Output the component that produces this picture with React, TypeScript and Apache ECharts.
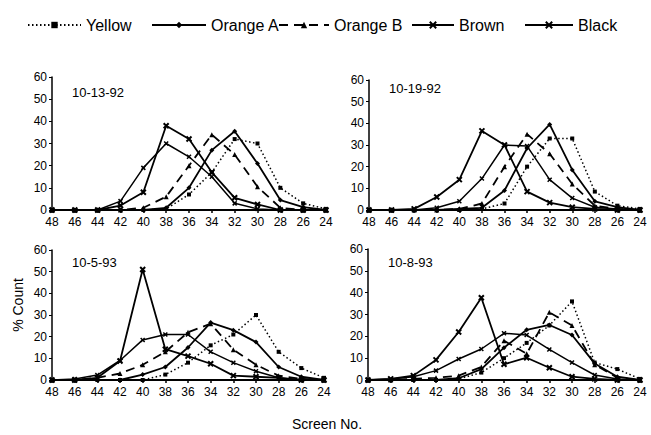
import React, { useEffect, useRef } from "react";
import * as echarts from "echarts";

const screens = ["48", "46", "44", "42", "40", "38", "36", "34", "32", "30", "28", "26", "24"];
const panelTitles = ["10-13-92", "10-19-92", "10-5-93", "10-8-93"];
const seriesNames = ["Yellow", "Orange A", "Orange B", "Brown", "Black"];

// Panel 1: 10-13-92
const p1Yellow = [0, 0, 0, 0, 0, 0.5, 7, 17, 32, 30, 10, 3, 0.5];
const p1OrangeA = [0, 0, 0, 0, 0, 1, 10, 27, 35.5, 21, 4.5, 1.3, 0];
const p1OrangeB = [0, 0, 0, 0, 1, 6, 20, 34, 25, 10.5, 1, 0, 0];
const p1Brown = [0, 0, 0, 4, 19, 30, 24, 15, 3, 0.5, 0, 0, 0];
const p1Black = [0, 0, 0, 2, 8, 38, 32, 17, 5.5, 2.5, 0, 0, 0];

// Panel 2: 10-19-92
const p2Yellow = [0, 0, 0, 0, 0, 0.5, 3, 20, 33, 33, 8.5, 2, 0.5];
const p2OrangeA = [0, 0, 0, 0, 0.5, 1, 9, 28.5, 39.5, 18.5, 4, 1.3, 0];
const p2OrangeB = [0, 0, 0, 0, 0.5, 3, 20, 35, 26, 12, 2, 0.5, 0];
const p2Brown = [0, 0, 0, 1, 4, 14.5, 30, 29.5, 14, 5.5, 1.3, 0.5, 0];
const p2Black = [0, 0, 0.5, 6, 14, 36.5, 30, 8.5, 3.4, 1.3, 0.5, 0, 0];

// Panel 3: 10-5-93
const p3Yellow = [0, 0, 0, 0, 0, 2.5, 8, 16, 21, 30, 13, 5.5, 1];
const p3OrangeA = [0, 0, 0, 0, 2.5, 6, 15, 26.5, 23, 17.5, 6, 1.5, 0];
const p3OrangeB = [0, 0, 1, 3, 7, 13, 22, 26, 14, 7, 2, 0.5, 0];
const p3Brown = [0, 0.5, 2.3, 9, 18.5, 21, 21, 13, 8, 4, 1, 0, 0];
const p3Black = [0, 0, 1, 8.8, 51, 14.2, 11, 7.5, 2, 1.5, 1, 0, 0];

// Panel 4: 10-8-93
const p4Yellow = [0, 0, 0, 0, 0.5, 3.4, 10, 17, 25, 36, 8, 5, 0.5];
const p4OrangeA = [0, 0, 0, 0, 0.8, 5, 14.8, 23, 25.2, 20.6, 7.6, 1.5, 0];
const p4OrangeB = [0, 0, 0.5, 1, 2, 6, 18, 12, 31, 25, 7, 1, 0];
const p4Brown = [0, 0.5, 1.5, 4.3, 9.6, 14.2, 21.4, 20.6, 14, 8, 2.3, 0.5, 0];
const p4Black = [0, 0.5, 2, 9.2, 22, 37.7, 7.2, 10.2, 5.6, 1.5, 0.5, 0, 0];

const panels = [
  [p1Yellow, p1OrangeA, p1OrangeB, p1Brown, p1Black],
  [p2Yellow, p2OrangeA, p2OrangeB, p2Brown, p2Black],
  [p3Yellow, p3OrangeA, p3OrangeB, p3Brown, p3Black],
  [p4Yellow, p4OrangeA, p4OrangeB, p4Brown, p4Black],
];

const FONT = "'Liberation Sans', Arial, Helvetica, sans-serif";
const X_SYM = "path://M0,0L10,10M10,0L0,10";

const styles = [
  { symbol: "rect", symbolSize: 4, lineStyle: { color: "#000", width: 1.5, type: [1.5, 2.5] }, itemStyle: { color: "#000" } },
  { symbol: "diamond", symbolSize: 5, lineStyle: { color: "#000", width: 1.8, type: "solid" }, itemStyle: { color: "#000" } },
  { symbol: "triangle", symbolSize: 5, lineStyle: { color: "#000", width: 1.8, type: [9, 6] }, itemStyle: { color: "#000" } },
  { symbol: X_SYM, symbolSize: 4, lineStyle: { color: "#000", width: 1.5, type: "solid" }, itemStyle: { color: "#000", borderColor: "#000", borderWidth: 1.5 } },
  { symbol: X_SYM, symbolSize: 5, lineStyle: { color: "#000", width: 1.8, type: "solid" }, itemStyle: { color: "#000", borderColor: "#000", borderWidth: 2 } },
];

const grids = [
  { left: 52, top: 77, width: 274, height: 133 },
  { left: 369, top: 80, width: 271, height: 130 },
  { left: 52, top: 250, width: 272, height: 130 },
  { left: 368, top: 249, width: 272, height: 131 },
];

const titlePos = [
  [72, 93],
  [389, 89],
  [72, 263],
  [388, 263],
];

const legendPos = [
  { left: 27, w: 53 },
  { left: 151, w: 54 },
  { left: 278, w: 50 },
  { left: 411, w: 42 },
  { left: 524, w: 48 },
];

export default function App() {
  const ref = useRef<HTMLDivElement>(null);
  useEffect(() => {
    if (!ref.current) return;
    const chart = echarts.init(ref.current, null, { renderer: "svg" });
    const series: any[] = [];
    panels.forEach((panel, pi) => {
      panel.forEach((data, si) => {
        series.push({
          type: "line",
          name: seriesNames[si],
          xAxisIndex: pi,
          yAxisIndex: pi,
          data,
          showSymbol: true,
          ...styles[si],
          z: 3,
        });
      });
    });
    const option: any = {
      animation: false,
      backgroundColor: "#fff",
      legend: legendPos.map((lp, i) => ({
        data: [seriesNames[i]],
        left: lp.left,
        top: 17,
        itemWidth: lp.w,
        itemHeight: 8,
        padding: 0,
        selectedMode: false,
        textStyle: { fontFamily: FONT, fontSize: 16, color: "#000" },
      })),
      grid: grids.map((g) => ({ ...g, containLabel: false })),
      xAxis: grids.map((_, i) => ({
        type: "category",
        gridIndex: i,
        data: screens,
        boundaryGap: false,
        axisLine: { lineStyle: { color: "#000", width: 2 } },
        axisTick: { show: true, length: 3, inside: false, lineStyle: { color: "#000", width: 1.5 }, interval: 0 },
        axisLabel: { interval: 0, color: "#000", fontFamily: FONT, fontSize: 12, lineHeight: 12, margin: 6 },
        splitLine: { show: false },
      })),
      yAxis: grids.map((_, i) => ({
        type: "value",
        gridIndex: i,
        min: 0,
        max: 60,
        interval: 10,
        axisLine: { show: true, lineStyle: { color: "#000", width: 1.5 } },
        axisTick: { show: true, length: 3, lineStyle: { color: "#000", width: 1 } },
        axisLabel: { color: "#000", fontFamily: FONT, fontSize: 12, lineHeight: 10, margin: 5 },
        splitLine: { show: false },
      })),
      graphic: [
        ...panelTitles.map((t, i) => ({
          type: "text",
          left: titlePos[i][0],
          top: titlePos[i][1] - 7,
          style: { text: t, fontFamily: FONT, fontSize: 13, fill: "#000" },
        })),
        {
          type: "text",
          x: 18,
          y: 305,
          rotation: Math.PI / 2,
          style: { text: "% Count", fontFamily: FONT, fontSize: 14, fill: "#000", align: "center", verticalAlign: "middle" },
        },
        {
          type: "text",
          x: 327,
          y: 424,
          style: { text: "Screen No.", fontFamily: FONT, fontSize: 14, fill: "#000", align: "center", verticalAlign: "middle" },
        },
      ],
      series,
    };
    chart.setOption(option);
    return () => chart.dispose();
  }, []);
  return <div ref={ref} style={{ position: "fixed", left: 0, top: 0, width: 651, height: 435 }} />;
}
